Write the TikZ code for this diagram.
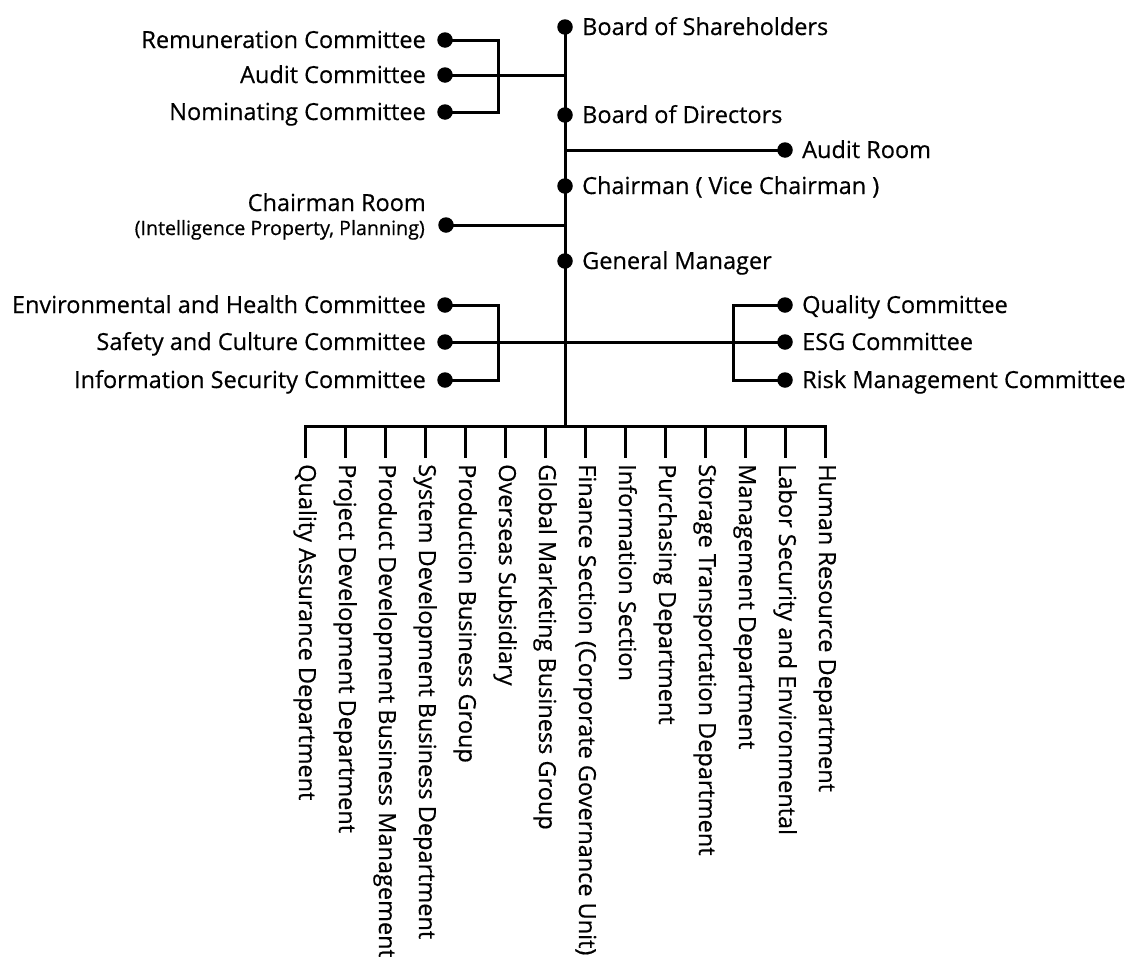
\documentclass[tikz,border=0pt]{standalone}
\usepackage{fontspec}
\setmainfont{Open Sans}[FakeBold=0.5]
\begin{document}
\begin{tikzpicture}[x=1pt,y=-1pt,
  dot/.style={circle,fill=black,inner sep=0pt,minimum size=15.5pt},
  ln/.style={line width=3pt,line cap=rect},
  lab/.style={inner sep=0pt,font=\fontsize{23.5}{28}\selectfont},
  rl/.style={lab,anchor=base west},
  ll/.style={lab,anchor=base east},
  vl/.style={lab,rotate=-90,anchor=base west}]
\useasboundingbox (0,0) rectangle (1130,956);

% main column
\node[dot] (bs) at (565,27) {};
\node[dot] (bd) at (565,115) {};
\node[dot] (ch) at (565,186) {};
\node[dot] (gm) at (565,261) {};
\coordinate (bus) at (565,426);
\node[rl] (bsl) at (582,35) {Board of Shareholders};
\node[rl] (bdl) at (582,123) {Board of Directors};
\node[rl] (chl) at (582,194) {Chairman ( Vice Chairman )};
\node[rl] (gml) at (582,269) {General Manager};
\draw[ln] (bs.center) -- (bus);

% board committees
\node[dot] (c1) at (445,40) {};
\node[dot] (c2) at (445,75) {};
\node[dot] (c3) at (445,112) {};
\node[ll] (c1l) at (426,48) {Remuneration Committee};
\node[ll] (c2l) at (426,83) {Audit Committee};
\node[ll] (c3l) at (426,120) {Nominating Committee};
\coordinate (k1) at (498,75);
\draw[ln] (c1.center) -| (k1) |- (c3.center);
\draw[ln] (c2.center) -- (c2.center -| bs.center);

% audit room
\node[dot] (ar) at (785,150) {};
\node[rl] (arl) at (802,158) {Audit Room};
\draw[ln] (ar.center -| bs.center) -- (ar.center);

% chairman room
\node[dot] (cr) at (446,225) {};
\node[ll] (crl) at (426,211) {Chairman Room};
\node[lab,anchor=base east,font=\fontsize{19.7}{23}\selectfont] (crs) at (425,235) {(Intelligence Property, Planning)};
\draw[ln] (cr.center) -- (cr.center -| bs.center);

% GM committees
\node[dot] (e1) at (445,305) {};
\node[dot] (e2) at (445,342) {};
\node[dot] (e3) at (445,380) {};
\node[ll] (e1l) at (426,313) {Environmental and Health Committee};
\node[ll] (e2l) at (426,350) {Safety and Culture Committee};
\node[ll] (e3l) at (426,388) {Information Security Committee};
\node[dot] (q1) at (785,305) {};
\node[dot] (q2) at (785,342) {};
\node[dot] (q3) at (785,380) {};
\node[rl] (q1l) at (802,313) {Quality Committee};
\node[rl] (q2l) at (802,350) {ESG Committee};
\node[rl] (q3l) at (802,388) {Risk Management Committee};
\coordinate (k2) at (498,342);
\coordinate (k3) at (733,342);
\draw[ln] (e1.center) -| (k2) |- (e3.center);
\draw[ln] (q1.center) -| (k3) |- (q3.center);
\draw[ln] (e2.center) -- (q2.center);

% departments
\foreach \i/\t in {1/Quality Assurance Department,
  2/Project Development Department,
  3/Product Development Business Management,
  4/System Development Business Department,
  5/Production Business Group,
  6/Overseas Subsidiary,
  7/Global Marketing Business Group,
  8/Finance Section (Corporate Governance Unit),
  9/Information Section,
  10/Purchasing Department,
  11/Storage Transportation Department,
  12/Management Department,
  13/Labor Security and Environmental,
  14/Human Resource Department}{
  \coordinate (t\i) at ({265+40*\i},426);
  \coordinate (b\i) at ({265+40*\i},456);
  \draw[ln] (t\i) -- (b\i);
  \node[vl] (d\i) at ({259+40*\i},464) {\t};
}
\draw[ln] (t1) -- (t14);
\end{tikzpicture}
\end{document}
